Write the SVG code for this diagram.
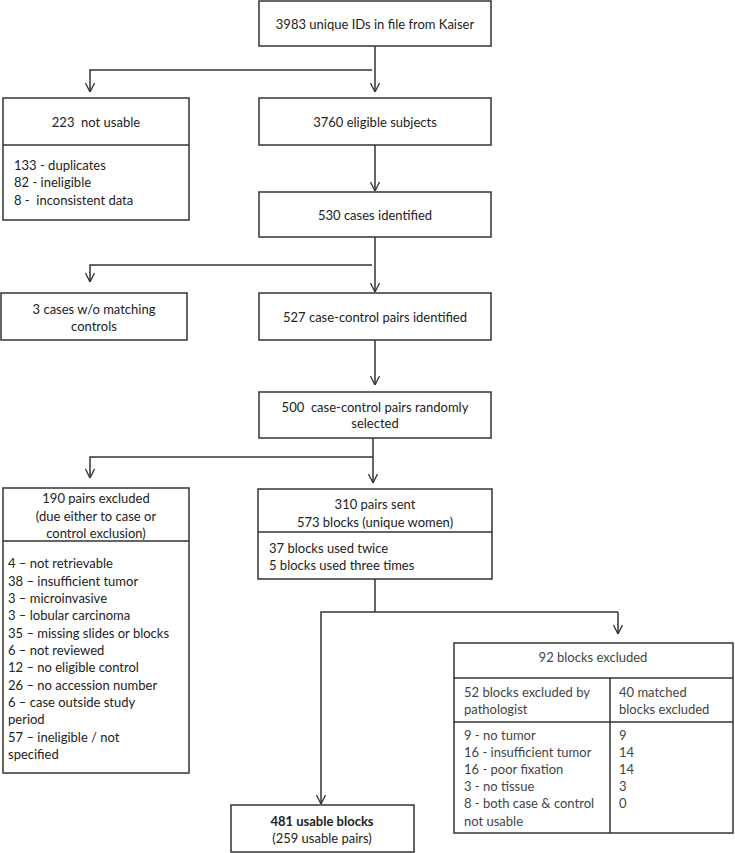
<svg xmlns="http://www.w3.org/2000/svg" width="735" height="853" viewBox="0 0 735 853">
<defs>
<marker id="arr" viewBox="0 0 10 10" refX="10" refY="5" markerWidth="10" markerHeight="10" markerUnits="userSpaceOnUse" orient="auto">
<path d="M1,0.5 L10,5 L1,9.5" fill="none" stroke="#333" stroke-width="1.3"/>
</marker>
<style>
.box{fill:#fff;stroke:#333;stroke-width:1.5}
.ln{fill:none;stroke:#333;stroke-width:1.5}
.c{stroke:#333;stroke-width:1.5;fill:none}
text{font-family:Lato,"Open Sans","Liberation Sans",sans-serif;font-size:13px;fill:#222}
.m{text-anchor:middle}
.g{fill:#444}
.b{font-weight:bold}
</style>
</defs>
<rect width="735" height="853" fill="#fff"/>
<g id="connectors">
<path class="c" d="M375,46 V92" marker-end="url(#arr)"/>
<path class="c" d="M372,70 H90 V92" marker-end="url(#arr)"/>
<path class="c" d="M375,145 V191" marker-end="url(#arr)"/>
<path class="c" d="M375,237 V292" marker-end="url(#arr)"/>
<path class="c" d="M372,265 H90 V282" marker-end="url(#arr)"/>
<path class="c" d="M375,340 V385" marker-end="url(#arr)"/>
<path class="c" d="M373,438 V457 V483" marker-end="url(#arr)"/>
<path class="c" d="M373,457 H90 V478" marker-end="url(#arr)"/>
<path class="c" d="M375,579 V612"/>
<path class="c" d="M618,612 H321 V804" marker-end="url(#arr)"/>
<path class="c" d="M618,612 V634" marker-end="url(#arr)"/>
</g>
<g id="n1"><rect class="box" x="259" y="1" width="232" height="45"/><text class="m" x="375" y="29">3983 unique IDs in file from Kaiser</text></g>
<g id="n2"><rect class="box" x="3" y="98" width="186" height="122"/><line class="ln" x1="3" y1="145" x2="189" y2="145"/>
<text class="m" x="96" y="127" xml:space="preserve">223  not usable</text>
<text x="14" y="170">133 - duplicates</text>
<text x="14" y="187">82 - ineligible</text>
<text x="14" y="205" xml:space="preserve">8 -  inconsistent data</text></g>
<g id="n3"><rect class="box" x="259" y="98" width="232" height="47"/><text class="m" x="375" y="127">3760 eligible subjects</text></g>
<g id="n4"><rect class="box" x="259" y="192" width="232" height="45"/><text class="m" x="375" y="220">530 cases identified</text></g>
<g id="n5"><rect class="box" x="1" y="293" width="186" height="47"/><text class="m" x="94" y="314">3 cases w/o matching</text><text class="m" x="94" y="331">controls</text></g>
<g id="n6"><rect class="box" x="259" y="293" width="232" height="47"/><text class="m" x="375" y="322">527 case-control pairs identified</text></g>
<g id="n7"><rect class="box" x="259" y="392" width="232" height="46"/><text class="m" x="375" y="412" xml:space="preserve">500  case-control pairs randomly</text><text class="m" x="375" y="428">selected</text></g>
<g id="n8"><rect class="box" x="3" y="488" width="186" height="285"/><line class="ln" x1="3" y1="541" x2="189" y2="541"/>
<text class="m" x="96" y="503">190 pairs excluded</text>
<text class="m" x="96" y="521">(due either to case or</text>
<text class="m" x="96" y="538">control exclusion)</text>
<text x="8" y="568">4 – not retrievable</text>
<text x="8" y="586">38 – insufficient tumor</text>
<text x="8" y="603">3 – microinvasive</text>
<text x="8" y="620">3 – lobular carcinoma</text>
<text x="8" y="638">35 – missing slides or blocks</text>
<text x="8" y="655">6 – not reviewed</text>
<text x="8" y="672">12 – no eligible control</text>
<text x="8" y="690">26 – no accession number</text>
<text x="8" y="707">6 – case outside study</text>
<text x="8" y="724">period</text>
<text x="8" y="742">57 – ineligible / not</text>
<text x="8" y="759">specified</text></g>
<g id="n9"><rect class="box" x="258" y="489" width="234" height="90"/><line class="ln" x1="258" y1="532" x2="492" y2="532"/>
<text class="m" x="375" y="509">310 pairs sent</text>
<text class="m" x="375" y="527">573 blocks (unique women)</text>
<text x="269" y="553">37 blocks used twice</text>
<text x="269" y="570">5 blocks used three times</text></g>
<g id="n10"><rect class="box" x="454" y="643" width="279" height="190"/>
<line class="ln" x1="454" y1="678" x2="733" y2="678"/>
<line class="ln" x1="454" y1="722" x2="733" y2="722"/>
<line class="ln" x1="610" y1="678" x2="610" y2="833"/>
<text class="m g" x="593" y="662">92 blocks excluded</text>
<text class="g" x="464" y="697">52 blocks excluded by</text>
<text class="g" x="464" y="714">pathologist</text>
<text class="g" x="619" y="697">40 matched</text>
<text class="g" x="619" y="714">blocks excluded</text>
<text class="g" x="464" y="740">9 - no tumor</text>
<text class="g" x="464" y="757">16 - insufficient tumor</text>
<text class="g" x="464" y="774">16 - poor fixation</text>
<text class="g" x="464" y="791">3 - no tissue</text>
<text class="g" x="464" y="808">8 - both case &amp; control</text>
<text class="g" x="464" y="826">not usable</text>
<text class="g" x="619" y="740">9</text>
<text class="g" x="619" y="757">14</text>
<text class="g" x="619" y="774">14</text>
<text class="g" x="619" y="791">3</text>
<text class="g" x="619" y="808">0</text></g>
<g id="n11"><rect class="box" x="231" y="805" width="183" height="47"/>
<text class="m b" x="322" y="826">481 usable blocks</text>
<text class="m" x="322" y="843">(259 usable pairs)</text></g>
</svg>
